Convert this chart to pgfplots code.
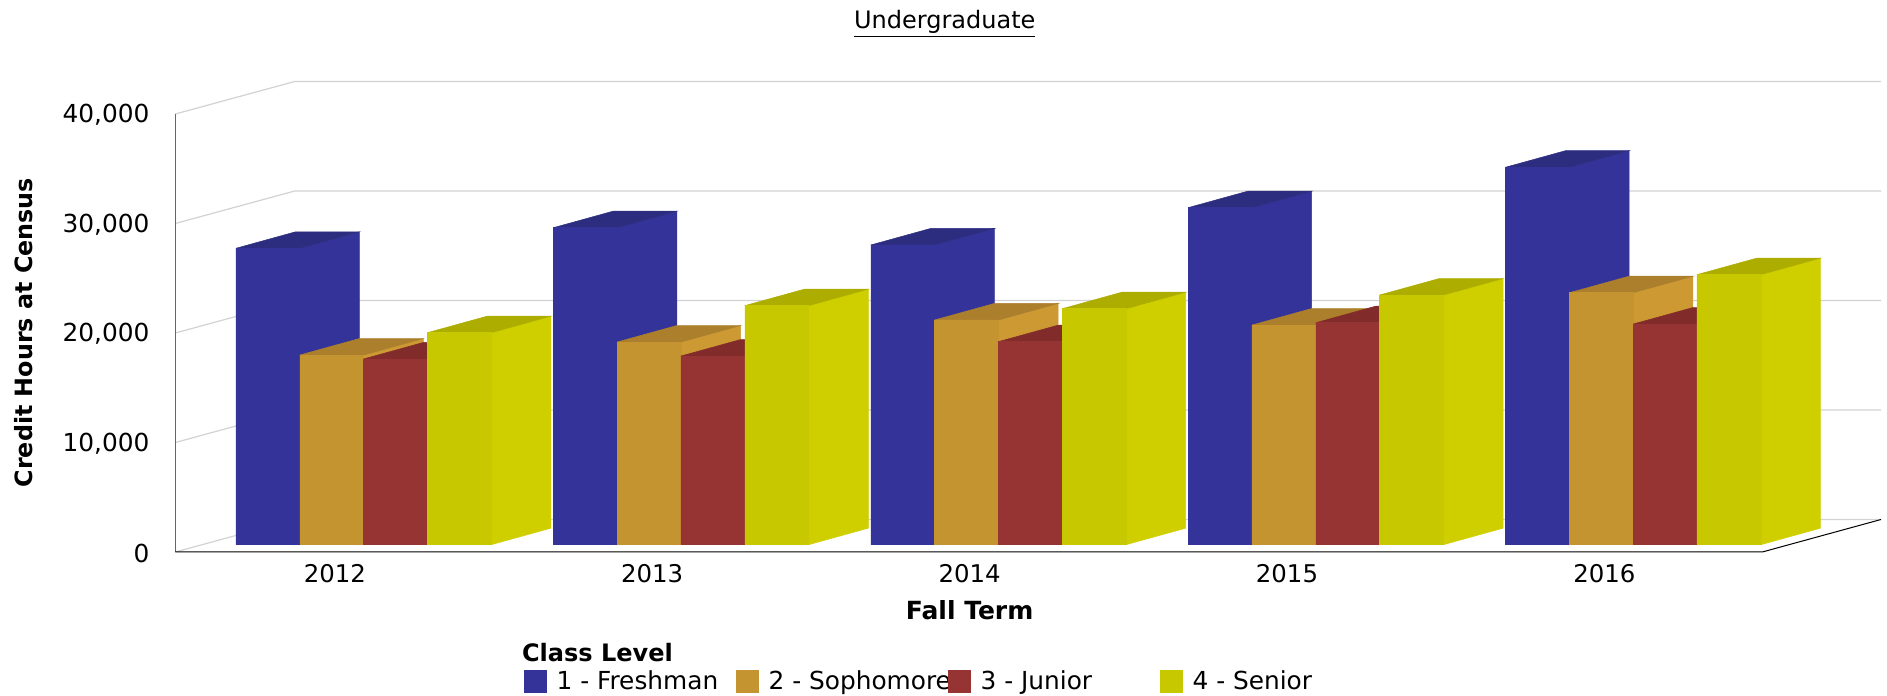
\documentclass[border=0pt]{standalone}
\usepackage{fontspec}
\setmainfont{DejaVu Sans}
\usepackage{pgfplots}
\pgfplotsset{compat=1.18}
\newcommand{\ff}{\fontsize{12}{14.4}\selectfont}
\newcommand{\fy}{\fontsize{12.4}{14.4}\selectfont}
\newcommand{\fx}{\fontsize{12.2}{14.4}\selectfont}
\definecolor{cBlueF}{HTML}{333399}\definecolor{cBlueS}{HTML}{333399}\definecolor{cBlueT}{HTML}{2D2D80}
\definecolor{cGoldF}{HTML}{C49430}\definecolor{cGoldS}{HTML}{CC9933}\definecolor{cGoldT}{HTML}{AB7F2C}
\definecolor{cRedF}{HTML}{963333}\definecolor{cRedS}{HTML}{963333}\definecolor{cRedT}{HTML}{822B2B}
\definecolor{cYelF}{HTML}{C8C800}\definecolor{cYelS}{HTML}{CFCF00}\definecolor{cYelT}{HTML}{ADAD00}
\definecolor{gridc}{HTML}{D2D2D2}
% #1 group index, #2 series index, #3 value, #4 colour stem
\newcommand{\barD}[4]{%
  \pgfmathsetmacro\xa{-0.3088+#1+0.201*#2}%
  \pgfmathsetmacro\xb{\xa+0.201}%
  \pgfmathsetmacro\xc{\xa+0.1881}%
  \pgfmathsetmacro\xd{\xb+0.1881}%
  \edef\yb{667}\edef\ybb{2174}%
  \edef\yt{\the\numexpr667+#3\relax}%
  \edef\ytt{\the\numexpr2174+#3\relax}%
  \edef\tmp{\noexpand\addplot[fill=#4S,draw=#4S,line width=0.25pt,forget plot] coordinates {(\xb,\yb)(\xd,\ybb)(\xd,\ytt)(\xb,\yt)(\xb,\yb)};
    \noexpand\addplot[fill=#4T,draw=#4T,line width=0.25pt,forget plot] coordinates {(\xa,\yt)(\xb,\yt)(\xd,\ytt)(\xc,\ytt)(\xa,\yt)};
    \noexpand\addplot[fill=#4F,draw=#4F,line width=0.25pt,forget plot] coordinates {(\xa,\yb)(\xb,\yb)(\xb,\yt)(\xa,\yt)(\xa,\yb)};}%
  \tmp}
\begin{document}
\begin{tikzpicture}
\path[use as bounding box] (0,0) rectangle (943.5pt,348pt);
\begin{axis}[
  at={(87.65pt,72pt)}, anchor=south west,
  scale only axis, width=852.85pt, height=235.15pt,
  xmin=-0.5, xmax=4.874, ymin=0, ymax=42950,
  clip=false,
  axis line style={draw=none},
  major tick length=0pt,
  xtick={0,1,2,3,4},
  xticklabels={2012,2013,2014,2015,2016},
  ytick={0,10000,20000,30000,40000},
  scaled y ticks=false,
  /pgf/number format/1000 sep={,},
  /pgf/number format/assume math mode=true,
  every x tick label/.append style={font=\fx,yshift=-2.5pt,xshift=0.4pt},
  every y tick label/.append style={font=\fy,xshift=-9.4pt,yshift=-0.6pt},
  title={\underline{Undergraduate}},
  title style={font=\ff,at={(axis description cs:0.4511,1.0964)},anchor=center},
  xlabel={Fall Term},
  xlabel style={font=\fontsize{12.5}{14.4}\selectfont\bfseries,at={(axis description cs:0.4657,-0.1233)},anchor=center},
  ylabel={Credit Hours at Census},
  ylabel style={font=\fontsize{11.9}{14.4}\selectfont\bfseries,at={(axis description cs:-0.0887,0.4663)},anchor=center},
  legend columns=4,
  legend style={font=\fy,draw=none,fill=none,inner sep=0pt,
    at={(axis description cs:0.204,-0.275)},anchor=west,
    nodes={inner sep=0pt,anchor=west},
    /tikz/every odd column/.style={column sep=5pt},
    /tikz/every even column/.style={column sep=0pt}},
  legend cell align=left,
  legend image code/.code={\path[#1,draw=none] (0pt,-5.75pt) rectangle (11.5pt,5.75pt);},
]
% walls
\addplot[gridc,line width=0.6pt,forget plot] coordinates {(-0.5,0)(-0.1238,2968)(4.874,2968)};
\addplot[gridc,line width=0.6pt,forget plot] coordinates {(-0.5,10000)(-0.1238,12968)(4.874,12968)};
\addplot[gridc,line width=0.6pt,forget plot] coordinates {(-0.5,20000)(-0.1238,22968)(4.874,22968)};
\addplot[gridc,line width=0.6pt,forget plot] coordinates {(-0.5,30000)(-0.1238,32968)(4.874,32968)};
\addplot[gridc,line width=0.6pt,forget plot] coordinates {(-0.5,40000)(-0.1238,42968)(4.874,42968)};
\addplot[color=black!60,line width=0.6pt,forget plot] coordinates {(-0.5,0)(-0.5,40000)};
\addplot[black,line width=0.5pt,forget plot] coordinates {(-0.5,0)(4.5,0)(4.874,2968)};
% bars: 2012
\barD{0}{0}{27070}{cBlue}
\barD{0}{1}{17320}{cGold}
\barD{0}{2}{16960}{cRed}
\barD{0}{3}{19360}{cYel}
% 2013
\barD{1}{0}{28950}{cBlue}
\barD{1}{1}{18510}{cGold}
\barD{1}{2}{17230}{cRed}
\barD{1}{3}{21830}{cYel}
% 2014
\barD{2}{0}{27370}{cBlue}
\barD{2}{1}{20520}{cGold}
\barD{2}{2}{18540}{cRed}
\barD{2}{3}{21550}{cYel}
% 2015
\barD{3}{0}{30780}{cBlue}
\barD{3}{1}{20060}{cGold}
\barD{3}{2}{20270}{cRed}
\barD{3}{3}{22800}{cYel}
% 2016
\barD{4}{0}{34470}{cBlue}
\barD{4}{1}{23010}{cGold}
\barD{4}{2}{20150}{cRed}
\barD{4}{3}{24660}{cYel}
\addlegendimage{fill=cBlueF}\addlegendentry{\makebox[89.5pt][l]{1 - Freshman}}
\addlegendimage{fill=cGoldF}\addlegendentry{\makebox[89.5pt][l]{2 - Sophomore}}
\addlegendimage{fill=cRedF}\addlegendentry{\makebox[89.5pt][l]{3 - Junior}}
\addlegendimage{fill=cYelF}\addlegendentry{\makebox[89.5pt][l]{4 - Senior}}
\node[font=\ff\bfseries,anchor=west,inner sep=0pt] at (axis description cs:0.2031,-0.2148) {Class Level};
\end{axis}
\end{tikzpicture}
\end{document}
